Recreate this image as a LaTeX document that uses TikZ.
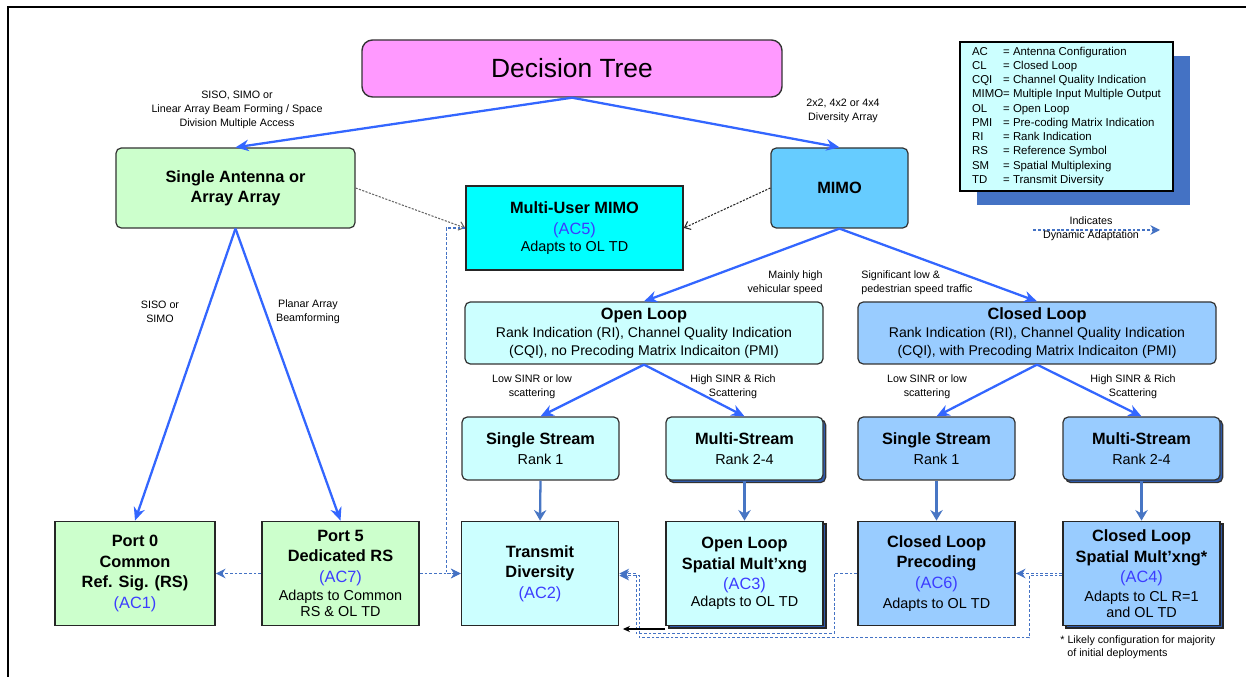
\documentclass[tikz,border=0pt]{standalone}
\usepackage{fontspec}
\setmainfont{Liberation Sans}
\usetikzlibrary{arrows.meta,positioning,shadows,calc}
\definecolor{treepink}{HTML}{FF99FF}
\definecolor{antgreen}{HTML}{CCFFCC}
\definecolor{mimoblue}{HTML}{66CCFF}
\definecolor{mucyan}{HTML}{00FFFF}
\definecolor{olcyan}{HTML}{CCFFFF}
\definecolor{clblue}{HTML}{99CCFF}
\definecolor{flowblue}{RGB}{51,102,255}
\definecolor{stemblue}{RGB}{72,118,196}
\definecolor{dynblue}{RGB}{68,114,196}
\definecolor{shadeblue}{RGB}{46,89,170}
\definecolor{acblue}{RGB}{60,60,255}
\newcommand{\cellfont}{\fontsize{9.3}{11.6}\bfseries\selectfont}
\newcommand{\loopfont}{\fontsize{8}{10.2}\mdseries\selectfont}
\newcommand{\labfont}{\fontsize{6.1}{7.8}\selectfont}
\newcommand{\keyfont}{\fontsize{6.5}{8.1}\selectfont}
\newcommand{\acref}[1]{{\mdseries\color{acblue}#1}}
\newcommand{\adapt}[1]{{\mdseries\fontsize{8.2}{9}\selectfont #1}}
\tikzset{
    treebox/.style={draw=black!80, line width=0.8pt, rounded corners=6pt, fill=treepink, minimum width=84mm, minimum height=11.4mm, font=\fontsize{15}{17}\selectfont},
    flowbox/.style={draw=black!80, line width=0.7pt, rounded corners=3pt, align=center, font=\cellfont, inner sep=1pt},
    endbox/.style={draw=black!85, line width=1pt, align=center, font=\cellfont, minimum width=31.4mm, minimum height=20.8mm, inner sep=1pt},
    stacked/.style={copy shadow={shadow xshift=1.5pt, shadow yshift=-1.5pt, fill=shadeblue}},
    keybox/.style={draw, line width=0.8pt, fill=olcyan, minimum width=42.6mm, minimum height=29mm, inner sep=2pt, font=\keyfont, drop shadow={shadow xshift=9.5pt, shadow yshift=-8pt, fill=dynblue, opacity=1}},
    note/.style={align=center, font=\labfont, inner sep=0pt},
    flow/.style={-{Stealth[length=7.5pt,width=6.5pt]}, line width=1.3pt, draw=flowblue},
    stem/.style={-{Stealth[length=6pt,width=7pt]}, line width=1.3pt, draw=stemblue},
    dyn/.style={-{Stealth[length=5.5pt,width=5.5pt]}, dash pattern=on 1.6pt off 1.1pt, line width=0.7pt, draw=dynblue},
    hint/.style={-{Straight Barb[length=3pt,width=5pt]}, dash pattern=on 1.2pt off 0.8pt, line width=0.6pt}
}
\begin{document}
\begin{tikzpicture}[x=0.2mm, y=-0.2mm]
    \useasboundingbox (0,0) rectangle (1257,677);
    % page frame
    \draw[line width=1.2pt] (8,677) -- (8,7) -- (1246,7);

    % top of the tree
    \node[treebox] (tree) at (572,68.5) {Decision Tree};
    \node[flowbox, fill=antgreen, minimum width=47.8mm, minimum height=16mm] (single) at (235.5,188) {Single Antenna or\\Array Array};
    \node[flowbox, fill=mimoblue, minimum width=27.4mm, minimum height=16mm] (mimo) at (839.5,188) {MIMO};
    \node[endbox, fill=mucyan, minimum width=43.4mm, minimum height=16.8mm] (mumimo) at (574.5,228) {Multi-User MIMO\\\acref{(AC5)}\\[-2pt]\adapt{Adapts to OL TD}};

    % legend
    \node[keybox] (key) at (1066.5,116.5) {\begin{tabular}{@{}l@{}l@{}}
        AC & = Antenna Configuration\\
        CL & = Closed Loop\\
        CQI & = Channel Quality Indication\\
        MIMO&= Multiple Input Multiple Output\\
        OL & = Open Loop\\
        PMI & = Pre-coding Matrix Indication\\
        RI & = Rank Indication\\
        RS & = Reference Symbol\\
        SM & = Spatial Multiplexing\\
        TD & = Transmit Diversity
    \end{tabular}};
    \coordinate (dynL) at (1033,230);
    \coordinate (dynR) at (1160,230);
    \draw[dyn] (dynL) -- (dynR);
    \node[note] (dynnote) at (1091,229) {Indicates\\Dynamic Adaptation};

    % loops
    \node[flowbox, fill=olcyan, minimum width=71.6mm, minimum height=12.4mm, font=\loopfont] (openloop) at (644,333) {\textbf{\fontsize{9.3}{10}\selectfont Open Loop}\\Rank Indication (RI), Channel Quality Indication\\(CQI), no Precoding Matrix Indicaiton (PMI)};
    \node[flowbox, fill=clblue, minimum width=71.6mm, minimum height=12.4mm, font=\loopfont] (closedloop) at (1037,333) {\textbf{\fontsize{9.3}{10}\selectfont Closed Loop}\\Rank Indication (RI), Channel Quality Indication\\(CQI), with Precoding Matrix Indicaiton (PMI)};

    % streams
    \node[flowbox, fill=olcyan, minimum width=31.4mm, minimum height=12.6mm] (olss) at (540.5,448.5) {Single Stream\\\adapt{Rank 1}};
    \node[flowbox, fill=olcyan, minimum width=31.4mm, minimum height=12.6mm, stacked] (olms) at (744.5,448.5) {Multi-Stream\\\adapt{Rank 2-4}};
    \node[flowbox, fill=clblue, minimum width=31.4mm, minimum height=12.6mm] (clss) at (936.5,448.5) {Single Stream\\\adapt{Rank 1}};
    \node[flowbox, fill=clblue, minimum width=31.4mm, minimum height=12.6mm, stacked] (clms) at (1141.5,448.5) {Multi-Stream\\\adapt{Rank 2-4}};

    % configurations
    \node[endbox, fill=antgreen, minimum width=32mm] (port0) at (135,573.5) {Port 0\\Common\\Ref. Sig. (RS)\\\acref{(AC1)}};
    \node[endbox, fill=antgreen] (port5) at (340.5,573.5) {Port 5\\Dedicated RS\\\acref{(AC7)}\\[-1pt]\adapt{Adapts to Common}\\[-2.5pt]\adapt{RS \&  OL TD}};
    \node[endbox, fill=olcyan] (td) at (540,573.5) {Transmit\\Diversity\\\acref{(AC2)}};
    \node[endbox, fill=olcyan, stacked] (olsm) at (744.5,573.5) {Open Loop\\Spatial Mult’xng\\\acref{(AC3)}\\[-2pt]\adapt{Adapts to OL TD}};
    \node[endbox, fill=clblue] (clpre) at (936.5,573.5) {Closed Loop\\Precoding\\\acref{(AC6)}\\\adapt{Adapts to OL TD}};
    \node[endbox, fill=clblue, stacked] (clsm) at (1141.5,573.5) {Closed Loop\\Spatial Mult’xng*\\\acref{(AC4)}\\[-1pt]\adapt{Adapts to CL R=1}\\[-2.5pt]\adapt{and OL TD}};

    % branch labels
    \node[note] (lblsiso) at (237,110) {SISO, SIMO or\\Linear Array Beam Forming / Space\\Division Multiple Access};
    \node[note] (lbldiv) at (843,111) {2x2, 4x2 or 4x4\\Diversity Array};
    \node[note] (lblsimo) at (160,312) {SISO or\\SIMO};
    \node[note] (lblplanar) at (308,312) {Planar Array\\Beamforming};
    \node[note, anchor=east, align=right] (lblveh) at (823,283) {Mainly high\\vehicular speed};
    \node[note, anchor=west, align=left] (lblped) at (861,283) {Significant low  \&\\pedestrian speed traffic};
    \node[note] (ollow) at (532,387) {Low SINR or low\\scattering};
    \node[note] (olhigh) at (733,387) {High SINR \&  Rich\\Scattering};
    \node[note] (cllow) at (927,387) {Low SINR or low\\scattering};
    \node[note] (clhigh) at (1133,387) {High SINR \&  Rich\\Scattering};
    \node[note, anchor=north west, align=left] (foot) at (1060,635) {* Likely configuration for majority\\\hspace*{4pt}of initial deployments};

    % decisions
    \foreach \a/\b in {tree/single,tree/mimo,single/port0,single/port5,mimo/openloop,mimo/closedloop,openloop/olss,openloop/olms,closedloop/clss,closedloop/clms}
        \draw[flow] (\a.south) -- (\b.north);
    \foreach \a/\b in {olss/td,olms/olsm,clss/clpre,clms/clsm}
        \draw[stem] (\a.south) -- (\b.north);
    \draw[hint, draw=black!60] (single.east) -- (mumimo.west);
    \draw[hint, draw=black!85] (mimo.west) -- (mumimo.east);

    % dynamic adaptation
    \draw[dyn] (mumimo.west) -- ++(-19,0) |- (td.west);
    \draw[dyn] (port5.east) -- (td.west);
    \draw[dyn] (port5.west) -- (port0.east);
    \draw[dyn] (clsm.west) -- (clpre.east);
    \draw[dyn] (clpre.west) -- ++(-23,0) -- ++(0,60) -- ++(-198,0) -- ++(0,-60) -- (td.east);
    \draw[dyn] ([yshift=-1.2pt]clsm.west) -- ++(-33,0) -- ++(0,62) -- ++(-390,0) -- ++(0,-62) -- ([yshift=-1.2pt]td.east);
    \draw[-{Stealth[length=4pt,width=3.5pt]}, line width=0.6pt] ([yshift=-1.5pt]olsm.south west) -- ([xshift=2pt,yshift=-1.5pt]td.south east);
\end{tikzpicture}
\end{document}
